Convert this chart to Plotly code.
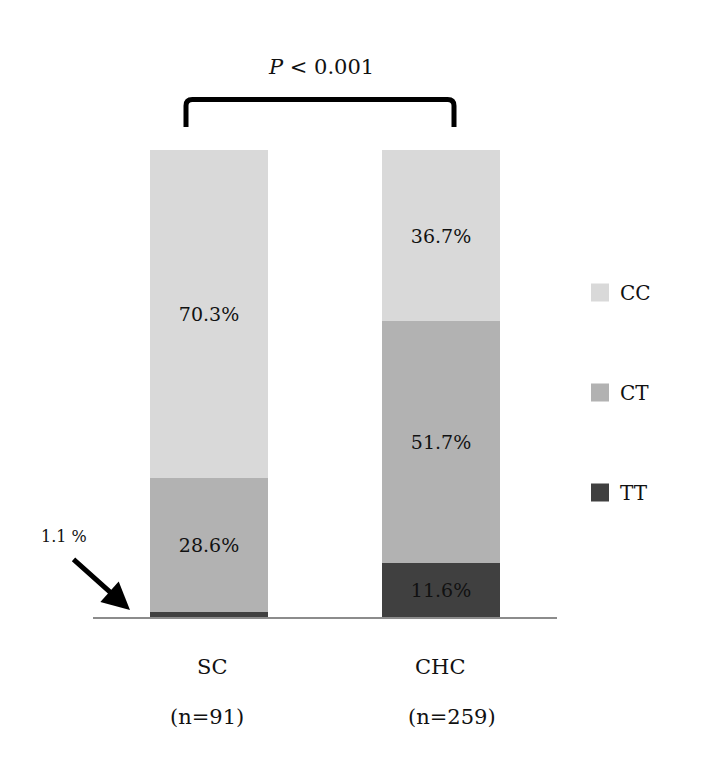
import plotly.graph_objects as go

groups = ['SC', 'CHC']
group_n = ['(n=91)', '(n=259)']
genotypes = ['TT', 'CT', 'CC']          # stacking order, bottom to top
legend_order = ['CC', 'CT', 'TT']
pct = {
    'TT': [1.1, 11.6],
    'CT': [28.6, 51.7],
    'CC': [70.3, 36.7],
}
colors = {'TT': '#404040', 'CT': '#b2b2b2', 'CC': '#d9d9d9'}
p_text = '<i>P</i> < 0.001'
small_label = '1.1 %'

FONT = 'DejaVu Serif'
W, H = 708, 772


def px(x):
    return x / W


def py(y):
    return 1 - y / H


fig = go.Figure()
for g in genotypes:
    # the 1.1% slice is too thin for text, it gets an arrow instead
    labels = ['' if v < 5 else f'{v}%' for v in pct[g]]
    fig.add_trace(go.Bar(
        x=groups,
        y=pct[g],
        name=g,
        showlegend=False,
        width=0.51,
        marker=dict(color=colors[g], line=dict(width=0)),
        text=labels,
        textposition='inside',
        insidetextanchor='middle',
        textfont=dict(family=FONT, size=19, color='#111'),
        hoverinfo='skip',
    ))

# legend entries with bigger square swatches than bar icons
for g in legend_order:
    fig.add_trace(go.Scatter(
        x=[None], y=[None], mode='markers', name=g, legendgroup=g,
        marker=dict(symbol='square', size=16, color=colors[g],
                    line=dict(color=colors[g], width=2)),
    ))

fig.update_layout(
    width=W,
    height=H,
    margin=dict(l=0, r=0, t=0, b=0),
    paper_bgcolor='white',
    plot_bgcolor='white',
    barmode='stack',
    bargap=0,
    font=dict(family=FONT, color='#111'),
    xaxis=dict(
        domain=[px(93), px(557)],
        range=[-0.5, 1.5],
        showticklabels=False,
        showgrid=False,
        zeroline=False,
        showline=True,
        linecolor='#8c8c8c',
        linewidth=2,
        ticks='',
    ),
    yaxis=dict(
        domain=[py(617), py(150)],
        range=[0, 100],
        visible=False,
    ),
    legend=dict(
        x=px(580),
        y=py(273),
        xanchor='left',
        yanchor='top',
        traceorder='grouped',
        tracegroupgap=71,
        font=dict(family=FONT, size=20, color='#111'),
        bgcolor='rgba(0,0,0,0)',
    ),
)

# category labels under the bars
label_x = {'SC': (212, 207), 'CHC': (440, 452)}
for grp, n in zip(groups, group_n):
    x_name, x_n = label_x[grp]
    fig.add_annotation(
        x=px(x_name), y=py(667), xref='paper', yref='paper',
        xanchor='center', yanchor='middle', showarrow=False, text=grp,
        font=dict(family=FONT, size=21, color='#111'),
    )
    fig.add_annotation(
        x=px(x_n), y=py(717), xref='paper', yref='paper',
        xanchor='center', yanchor='middle', showarrow=False, text=n,
        font=dict(family=FONT, size=21, color='#111'),
    )

# significance bracket
x0, x1 = px(186), px(454)
yt, yb = py(99.5), py(127)
r = 0.009
fig.add_shape(
    type='path', xref='paper', yref='paper',
    path=(f'M {x0},{yb} L {x0},{yt - r * 0.9} Q {x0},{yt} {x0 + r},{yt} '
          f'L {x1 - r},{yt} Q {x1},{yt} {x1},{yt - r * 0.9} L {x1},{yb}'),
    line=dict(color='black', width=5),
)
fig.add_annotation(
    x=px(321), y=py(67), xref='paper', yref='paper',
    xanchor='center', yanchor='middle', showarrow=False, text=p_text,
    font=dict(family=FONT, size=21, color='#111'),
)

# arrow for the thin TT slice of SC
fig.add_annotation(
    x=px(130), y=py(610), xref='paper', yref='paper',
    ax=-58, ay=-52, text='', showarrow=True,
    arrowhead=2, arrowsize=1.1, arrowwidth=5, arrowcolor='black',
)
fig.add_annotation(
    x=px(64), y=py(536), xref='paper', yref='paper',
    xanchor='center', yanchor='middle', showarrow=False, text=small_label,
    font=dict(family=FONT, size=16, color='#111'),
)

fig.write_html('out.html', config={'displayModeBar': False},
               post_script="document.body.style.margin='0';")
